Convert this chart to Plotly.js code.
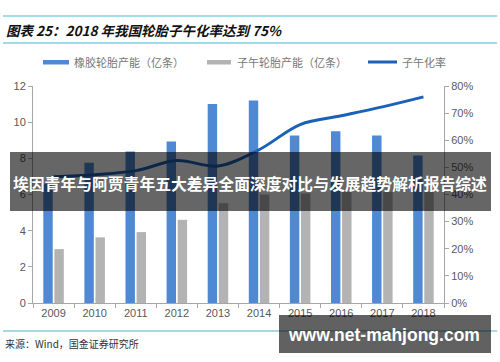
<!DOCTYPE html>
<html>
<head>
<meta charset="utf-8">
<script src="https://cdn.plot.ly/plotly-3.0.1.min.js"></script>
<style>html,body{margin:0;padding:0;background:#fff;}#chart{width:500px;height:362px;}</style>
</head>
<body>
<div id="chart"></div>
<script>
// ---- data ----
const years = ['2009','2010','2011','2012','2013','2014','2015','2016','2017','2018'];
const tyreCapacity = [6.6, 7.75, 8.38, 8.93, 11.0, 11.2, 9.26, 9.5, 9.26, 8.16];   // 橡胶轮胎产能（亿条）
const radialCapacity = [2.98, 3.63, 3.92, 4.6, 5.52, 6.0, 6.05, 6.15, 6.15, 6.15]; // 子午轮胎产能（亿条）
const radialRate = [0.465, 0.473, 0.488, 0.525, 0.505, 0.565, 0.658, 0.69, 0.723, 0.76]; // 子午化率
const seriesNames = ['橡胶轮胎产能（亿条）', '子午轮胎产能（亿条）', '子午化率'];
const leftTicks = [0, 2, 4, 6, 8, 10, 12];

// ---- layout geometry ----
const W = 500, H = 362;
const L = 33, R = 444, T = 86, B = 303;
const px = x => (x - L) / (R - L);
const py = y => (B - y) / (B - T);

const blue = '#4f88d3', gray = '#b3b3b3', lineBlue = '#1a62b8';
const cjk = '"Noto Sans CJK SC", "Noto Sans", sans-serif';
const latin = '"Liberation Sans", Arial, sans-serif';

const traces = [
  {type: 'bar', name: seriesNames[0], x: years, y: tyreCapacity, marker: {color: blue}, yaxis: 'y', showlegend: false},
  {type: 'bar', name: seriesNames[1], x: years, y: radialCapacity, marker: {color: gray}, yaxis: 'y', showlegend: false},
  {type: 'scatter', mode: 'lines', name: seriesNames[2], x: years, y: radialRate, yaxis: 'y2',
   line: {color: lineBlue, width: 3, shape: 'spline', smoothing: 1}, showlegend: false}
];

const shapes = [
  // title rules
  {type: 'line', xref: 'paper', yref: 'paper', x0: px(3), x1: px(497), y0: py(16), y1: py(16), line: {color: '#86cbe6', width: 1.5}, layer: 'below'},
  {type: 'line', xref: 'paper', yref: 'paper', x0: px(3), x1: px(497), y0: py(43), y1: py(43), line: {color: '#86cbe6', width: 1.5}, layer: 'below'},
  {type: 'line', xref: 'paper', yref: 'paper', x0: px(3), x1: px(497), y0: py(331), y1: py(331), line: {color: '#8ccad9', width: 1.5}, layer: 'below'},
  // legend swatches
  {type: 'rect', xref: 'paper', yref: 'paper', x0: px(43), x1: px(69), y0: py(60), y1: py(64.5), fillcolor: blue, line: {width: 0}},
  {type: 'rect', xref: 'paper', yref: 'paper', x0: px(207), x1: px(231), y0: py(60), y1: py(64.5), fillcolor: gray, line: {width: 0}},
  {type: 'line', xref: 'paper', yref: 'paper', x0: px(368), x1: px(397), y0: py(62), y1: py(62), line: {color: lineBlue, width: 3}},
  // overlay banner
  {type: 'rect', xref: 'paper', yref: 'paper', x0: px(10), x1: px(491), y0: py(152), y1: py(211), fillcolor: 'rgba(0,0,0,0.6)', line: {width: 0}, layer: 'above'},
  // watermark box
  {type: 'rect', xref: 'paper', yref: 'paper', x0: px(279), x1: px(491), y0: py(315), y1: py(353), fillcolor: 'rgba(0,0,0,0.62)', line: {width: 0}, layer: 'above'}
];

const annotations = [
  {xref: 'paper', yref: 'paper', x: px(4), y: py(30), xanchor: 'left', yanchor: 'middle', showarrow: false,
   text: '<b><i>图表 25：2018 年我国轮胎子午化率达到 75%</i></b>', font: {family: cjk, size: 13.5, color: '#111'}},
  {xref: 'paper', yref: 'paper', x: px(72), y: py(62), xanchor: 'left', yanchor: 'middle', showarrow: false,
   text: seriesNames[0], font: {family: cjk, size: 11, color: '#777'}},
  {xref: 'paper', yref: 'paper', x: px(235), y: py(62), xanchor: 'left', yanchor: 'middle', showarrow: false,
   text: seriesNames[1], font: {family: cjk, size: 11, color: '#777'}},
  {xref: 'paper', yref: 'paper', x: px(400), y: py(62), xanchor: 'left', yanchor: 'middle', showarrow: false,
   text: seriesNames[2], font: {family: cjk, size: 11, color: '#777'}},
  {xref: 'paper', yref: 'paper', x: px(3), y: py(343), xanchor: 'left', yanchor: 'middle', showarrow: false,
   text: '来源：Wind，国金证券研究所', font: {family: cjk, size: 10, color: '#333'}},
  {xref: 'paper', yref: 'paper', x: px(250.5), y: py(183), xanchor: 'center', yanchor: 'middle', showarrow: false,
   text: '<b>埃因青年与阿贾青年五大差异全面深度对比与发展趋势解析报告综述</b>', font: {family: cjk, size: 15.8, color: '#fff'}},
  {xref: 'paper', yref: 'paper', x: px(384), y: py(335), xanchor: 'center', yanchor: 'middle', showarrow: false,
   text: '<b>www.net-mahjong.com</b>', font: {family: latin, size: 17.5, color: '#fff'}}
];

const layout = {
  width: W, height: H,
  margin: {l: L, r: W - R, t: T, b: H - B, pad: 0},
  paper_bgcolor: '#fff', plot_bgcolor: '#fff',
  barmode: 'group', bargap: 0.46, bargroupgap: 0.15,
  showlegend: false,
  font: {family: latin, size: 11, color: '#595959'},
  xaxis: {
    type: 'category', showgrid: false, zeroline: false,
    showline: true, linecolor: '#a6a6a6', linewidth: 1,
    ticks: 'outside', tickson: 'boundaries', ticklen: 4, tickcolor: '#a6a6a6',
    tickfont: {family: latin, size: 11, color: '#595959'}
  },
  yaxis: {
    range: [0, 12], tickvals: leftTicks, showgrid: false, zeroline: false,
    showline: true, linecolor: '#a6a6a6', linewidth: 1,
    ticks: 'outside', ticklen: 4, tickcolor: '#a6a6a6',
    tickfont: {family: latin, size: 11, color: '#595959'}
  },
  yaxis2: {
    overlaying: 'y', side: 'right', range: [0, 0.8], dtick: 0.1, tickformat: '.0%',
    showgrid: false, zeroline: false,
    showline: true, linecolor: '#a6a6a6', linewidth: 1,
    ticks: 'outside', ticklen: 4, tickcolor: '#a6a6a6',
    tickfont: {family: latin, size: 11, color: '#595959'}
  },
  shapes: shapes,
  annotations: annotations
};

Plotly.newPlot('chart', traces, layout, {displayModeBar: false, staticPlot: true});
</script>
</body>
</html>
